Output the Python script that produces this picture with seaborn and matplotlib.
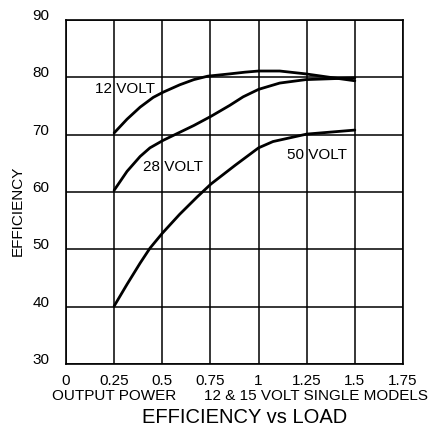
import pandas as pd
import matplotlib
matplotlib.use('Agg')
import matplotlib.pyplot as plt
import seaborn as sns

# curves (output power, efficiency %)
x_12v = [0.25, 0.317, 0.385, 0.453, 0.504, 0.591, 0.664, 0.736, 0.85, 0.93, 1.0, 1.11, 1.245, 1.37, 1.5]
eff_12v = [70.3, 72.7, 74.8, 76.5, 77.4, 78.7, 79.6, 80.2, 80.6, 80.9, 81.1, 81.1, 80.6, 80.0, 79.4]

x_28v = [0.25, 0.317, 0.385, 0.436, 0.504, 0.59, 0.664, 0.753, 0.85, 0.92, 1.0, 1.11, 1.245, 1.5]
eff_28v = [60.3, 63.6, 66.2, 67.7, 69.0, 70.4, 71.6, 73.2, 75.1, 76.6, 77.9, 79.0, 79.6, 79.9]

x_50v = [0.25, 0.317, 0.385, 0.436, 0.5, 0.59, 0.68, 0.753, 0.88, 1.0, 1.075, 1.25, 1.5]
eff_50v = [40.1, 43.9, 47.6, 50.2, 52.8, 56.1, 59.1, 61.4, 64.7, 67.7, 68.8, 70.1, 70.8]

series_names = ['12 VOLT', '28 VOLT', '50 VOLT']
x_ticks = [0, 0.25, 0.5, 0.75, 1.0, 1.25, 1.5, 1.75]
x_tick_labels = ['0', '0.25', '0.5', '0.75', '1', '1.25', '1.5', '1.75']
y_ticks = [30, 40, 50, 60, 70, 80, 90]

df = pd.concat([
    pd.DataFrame({'power': x_12v, 'eff': eff_12v, 'model': series_names[0]}),
    pd.DataFrame({'power': x_28v, 'eff': eff_28v, 'model': series_names[1]}),
    pd.DataFrame({'power': x_50v, 'eff': eff_50v, 'model': series_names[2]}),
])

sns.set_theme(style='white')
plt.rcParams['font.family'] = ['Liberation Sans', 'DejaVu Sans']
plt.rcParams['text.color'] = 'black'

fig = plt.figure(figsize=(4.35, 4.28), dpi=100)
ax = fig.add_axes([0.1517, 0.1495, 0.7747, 0.8038])

sns.lineplot(data=df, x='power', y='eff', hue='model', estimator=None, sort=False,
             palette=['black'] * 3, linewidth=2, legend=False, ax=ax)

ax.set_xlim(0, 1.75)
ax.set_ylim(30, 90)
ax.set_xticks(x_ticks)
ax.set_xticklabels(x_tick_labels)
ax.set_yticks(y_ticks)
ax.grid(True, color='black', linewidth=1.1)
ax.tick_params(axis='both', length=0, labelsize=11, colors='black')
ax.tick_params(axis='x', pad=7)
ax.tick_params(axis='y', pad=12)
for lab in ax.get_yticklabels():
    lab.set_verticalalignment('baseline')
for sp in ax.spines.values():
    sp.set_color('black')
    sp.set_linewidth(1.2)
ax.set_xlabel('')
ax.set_ylabel('')

# curve labels
ax.text(0.308, 77.2, '12 VOLT', ha='center', va='baseline', fontsize=11)
ax.text(0.557, 63.6, '28 VOLT', ha='center', va='baseline', fontsize=11)
ax.text(1.304, 65.7, '50 VOLT', ha='center', va='baseline', fontsize=11)

fig.text(17.5 / 435, 1 - 211 / 428, 'EFFICIENCY', rotation=90, ha='center', va='center', fontsize=11)
fig.text(114 / 435, 1 - 400 / 428, 'OUTPUT POWER', ha='center', va='baseline', fontsize=11)
fig.text(316.5 / 435, 1 - 400 / 428, '12 & 15 VOLT SINGLE MODELS', ha='center', va='baseline', fontsize=11)
fig.text(244.5 / 435, 1 - 423 / 428, 'EFFICIENCY vs LOAD', ha='center', va='baseline', fontsize=14.5)

fig.savefig('out.png', dpi=100)
